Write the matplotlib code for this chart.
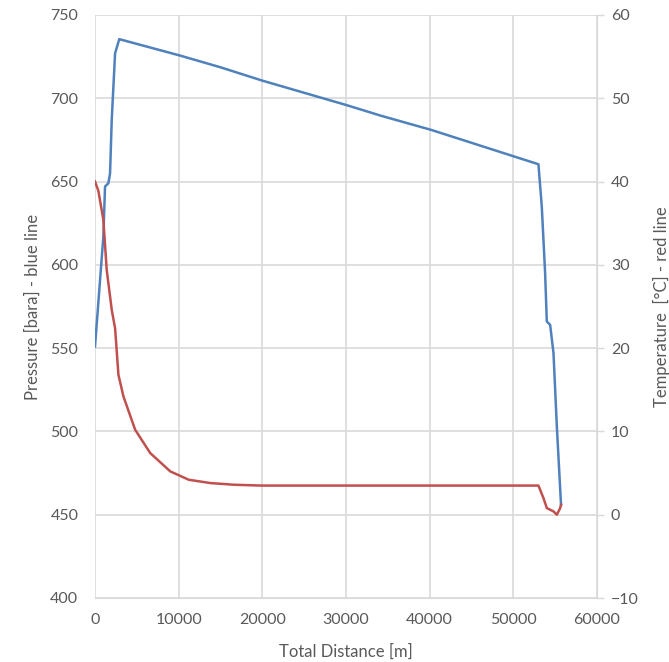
import numpy as np
import matplotlib
matplotlib.use('Agg')
import matplotlib.pyplot as plt

# Pressure (blue line)
dist_p = [0, 1000, 1200, 1600, 1800, 2000, 2200, 2400, 2900, 10200, 15000, 20000,
          30000, 34200, 40200, 53000, 53400, 53800, 54000, 54400, 54800, 55200, 55700]
pres = [551, 617, 647, 649, 655, 687, 707, 727, 735.5, 725.6, 718.6, 710.6,
        696, 689.5, 681, 660.4, 635, 595, 566, 564, 547, 503, 456]

# Temperature (red line)
dist_t = [0, 400, 1000, 1400, 2000, 2400, 2800, 3400, 4800, 6600, 9000, 11200,
          13800, 16600, 19800, 53000, 53600, 54000, 54400, 54800, 55200, 55600, 55700]
temp = [40.0, 38.9, 35.4, 29.4, 24.6, 22.4, 16.8, 14.2, 10.2, 7.4, 5.2, 4.2,
        3.8, 3.6, 3.5, 3.5, 2.0, 0.8, 0.6, 0.4, 0.0, 0.8, 1.2]

x_ticks = [0, 10000, 20000, 30000, 40000, 50000, 60000]
p_ticks = [400, 450, 500, 550, 600, 650, 700, 750]
t_ticks = [-10, 0, 10, 20, 30, 40, 50, 60]

plt.rcParams['font.family'] = ['Lato', 'DejaVu Sans']
txt = '#595959'
grid_c = '#d9d9d9'

fig = plt.figure(figsize=(6.69, 6.62), dpi=100)
ax = fig.add_axes([95/669, 1 - 598/662, (597 - 95)/669, (598 - 15)/662])
ax2 = ax.twinx()

ax.plot(dist_p, pres, color='#4f81bd', lw=1.8, zorder=3)
ax2.plot(dist_t, temp, color='#c0504d', lw=1.8, zorder=3)

ax.set_xlim(0, 60000)
ax.set_ylim(400, 750)
ax2.set_ylim(-10, 60)
ax.set_xticks(x_ticks)
ax.set_yticks(p_ticks)
ax2.set_yticks(t_ticks)

ax.grid(True, color=grid_c, lw=1.2)
ax.set_axisbelow(True)

for a in (ax, ax2):
    for s in a.spines.values():
        s.set_visible(False)
ax.spines['bottom'].set_visible(True)
ax.spines['bottom'].set_color(grid_c)
ax2.spines['right'].set_visible(True)
ax2.spines['right'].set_color(grid_c)

ax.tick_params(axis='x', length=0, pad=11, labelcolor=txt, labelsize=11.5)
ax.tick_params(axis='y', length=0, pad=12, labelcolor=txt, labelsize=11.5)
ax2.tick_params(axis='y', length=5, width=1, color=grid_c, pad=5, labelcolor=txt, labelsize=11.5)

ax.set_xlabel('Total Distance [m]', color=txt, fontsize=12, labelpad=12)
ax.set_ylabel('Pressure [bara] - blue line', color=txt, fontsize=12, labelpad=7)
ax2.set_ylabel('Temperature  [°C] - red line', color=txt, fontsize=12, labelpad=10)

fig.savefig('out.png', dpi=100, facecolor='white')
